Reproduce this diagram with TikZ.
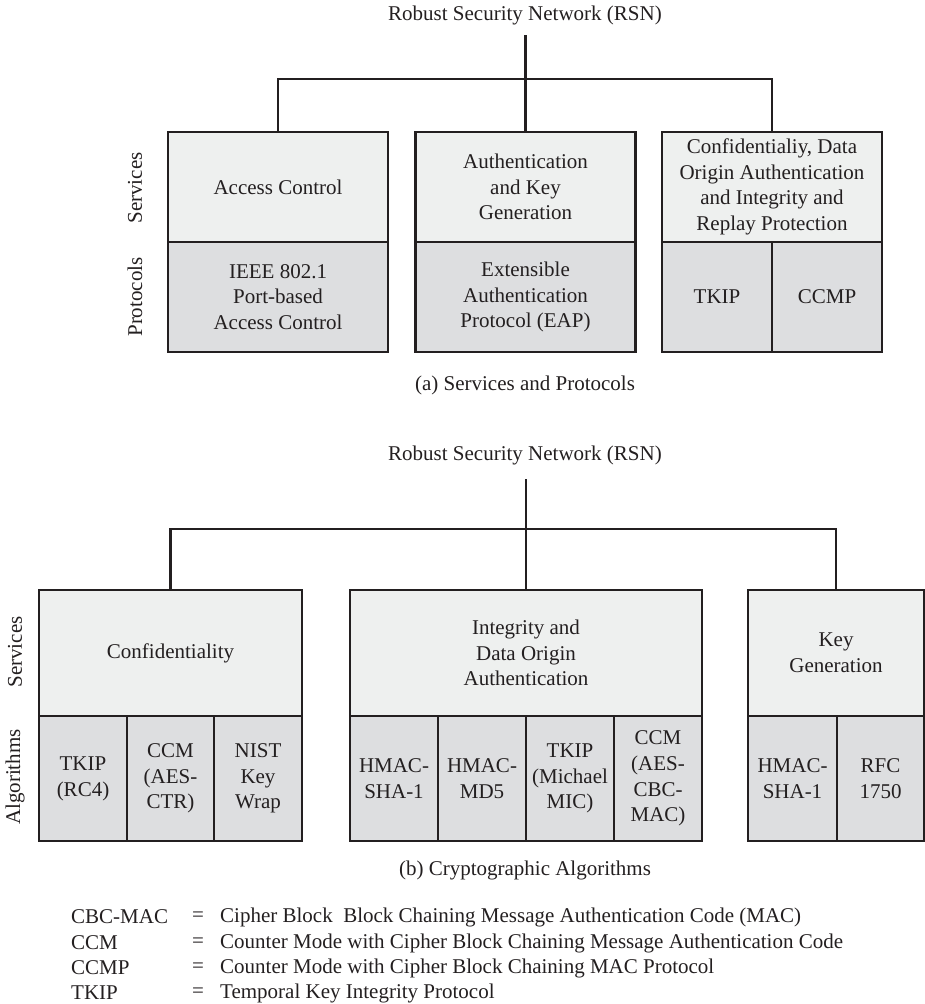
\documentclass[tikz,border=0pt]{standalone}
\usepackage{fontspec}
\setmainfont{Liberation Serif}
\definecolor{svcfill}{RGB}{238,240,239}
\definecolor{algfill}{RGB}{221,222,224}
\definecolor{ink}{RGB}{35,31,32}
\newcommand\myfs{\fontsize{21}{25.7}\selectfont}
\tikzset{
  cell/.style={draw=ink, line width=2.6pt, inner sep=0pt, outer sep=0pt, align=center, font=\myfs, text=ink},
  svc/.style={cell, fill=svcfill},
  alg/.style={cell, fill=algfill},
  conn/.style={draw=ink, line width=2.3pt},
  lbl/.style={font=\myfs, text=ink, inner sep=0pt},
}
\begin{document}
\begin{tikzpicture}[x=1pt, y=-1pt]
\useasboundingbox (0,0) rectangle (925,1004);

% ---------------- Part (a) ----------------
\node[lbl] (ta) at (525,15) {Robust Security Network (RSN)};
\coordinate (ta-stem) at (525.5,35);

\node[svc, minimum width=220, minimum height=110] (a1s) at (278,187) {Access Control};
\node[alg, minimum width=220, minimum height=110] (a1p) at (278,297) {IEEE 802.1\\Port-based\\Access Control};
\node[svc, minimum width=220, minimum height=110] (a2s) at (525.5,187) {Authentication\\and Key\\Generation};
\node[alg, minimum width=220, minimum height=110] (a2p) at (525.5,297) {Extensible\\Authentication\\Protocol (EAP)};
\node[svc, minimum width=220, minimum height=110] (a3s) at (772,187) {Confidentialiy, Data\\Origin Authentication\\and Integrity and\\Replay Protection};
\node[alg, minimum width=110, minimum height=110] (a3p1) at (717,297) {TKIP};
\node[alg, minimum width=110, minimum height=110] (a3p2) at (827,297) {CCMP};

\node[lbl, rotate=90] (asv) at (135,188) {Services};
\node[lbl, rotate=90] (apr) at (135,297) {Protocols};

\draw[conn] (ta-stem) -- (a2s.north);
\draw[conn] (a1s.north) -- ++(0,-53) -| (a3s.north);

\node[lbl] (capa) at (525,385) {(a) Services and Protocols};

% ---------------- Part (b) ----------------
\node[lbl] (tb) at (525,455) {Robust Security Network (RSN)};
\coordinate (tb-stem) at (526,479);

\node[svc, minimum width=263, minimum height=126] (b1s) at (170.5,653) {Confidentiality};
\node[alg, minimum width=88, minimum height=125] (b1a1) at (83,778.5) {TKIP\\(RC4)};
\node[alg, minimum width=87, minimum height=125] (b1a2) at (170.5,778.5) {CCM\\(AES-\\CTR)};
\node[alg, minimum width=88, minimum height=125] (b1a3) at (258,778.5) {NIST\\Key\\Wrap};

\node[svc, minimum width=352, minimum height=126] (b2s) at (526,653) {Integrity and\\Data Origin\\Authentication};
\node[alg, minimum width=88, minimum height=125] (b2a1) at (394,778.5) {HMAC-\\SHA-1};
\node[alg, minimum width=88, minimum height=125] (b2a2) at (482,778.5) {HMAC-\\MD5};
\node[alg, minimum width=88, minimum height=125] (b2a3) at (570,778.5) {TKIP\\(Michael\\MIC)};
\node[alg, minimum width=88, minimum height=125] (b2a4) at (658,778.5) {CCM\\(AES-\\CBC-\\MAC)};

\node[svc, minimum width=176, minimum height=126] (b3s) at (836,653) {Key\\Generation};
\node[alg, minimum width=89, minimum height=125] (b3a1) at (792.5,778.5) {HMAC-\\SHA-1};
\node[alg, minimum width=87, minimum height=125] (b3a2) at (880.5,778.5) {RFC\\1750};

\node[lbl, rotate=90] (bsv) at (15,652) {Services};
\node[lbl, rotate=90] (bal) at (15,777) {Algorithms};

\draw[conn] (tb-stem) -- (b2s.north);
\draw[conn] (b1s.north) -- ++(0,-61) -| (b3s.north);

\node[lbl] (capb) at (525,870) {(b) Cryptographic Algorithms};

% ---------------- Legend ----------------
\node[lbl, anchor=west] (k1) at (71,917) {CBC-MAC};
\node[lbl] (e1) at (198,917) {=};
\node[lbl, anchor=west] (d1) at (220,917) {Cipher Block\ \ Block Chaining Message Authentication Code (MAC)};
\node[lbl, anchor=west] (k2) at (71,943) {CCM};
\node[lbl] (e2) at (198,943) {=};
\node[lbl, anchor=west] (d2) at (220,943) {Counter Mode with Cipher Block Chaining Message Authentication Code};
\node[lbl, anchor=west] (k3) at (71,968) {CCMP};
\node[lbl] (e3) at (198,968) {=};
\node[lbl, anchor=west] (d3) at (220,968) {Counter Mode with Cipher Block Chaining MAC Protocol};
\node[lbl, anchor=west] (k4) at (71,993) {TKIP};
\node[lbl] (e4) at (198,993) {=};
\node[lbl, anchor=west] (d4) at (220,993) {Temporal Key Integrity Protocol};
\end{tikzpicture}
\end{document}
